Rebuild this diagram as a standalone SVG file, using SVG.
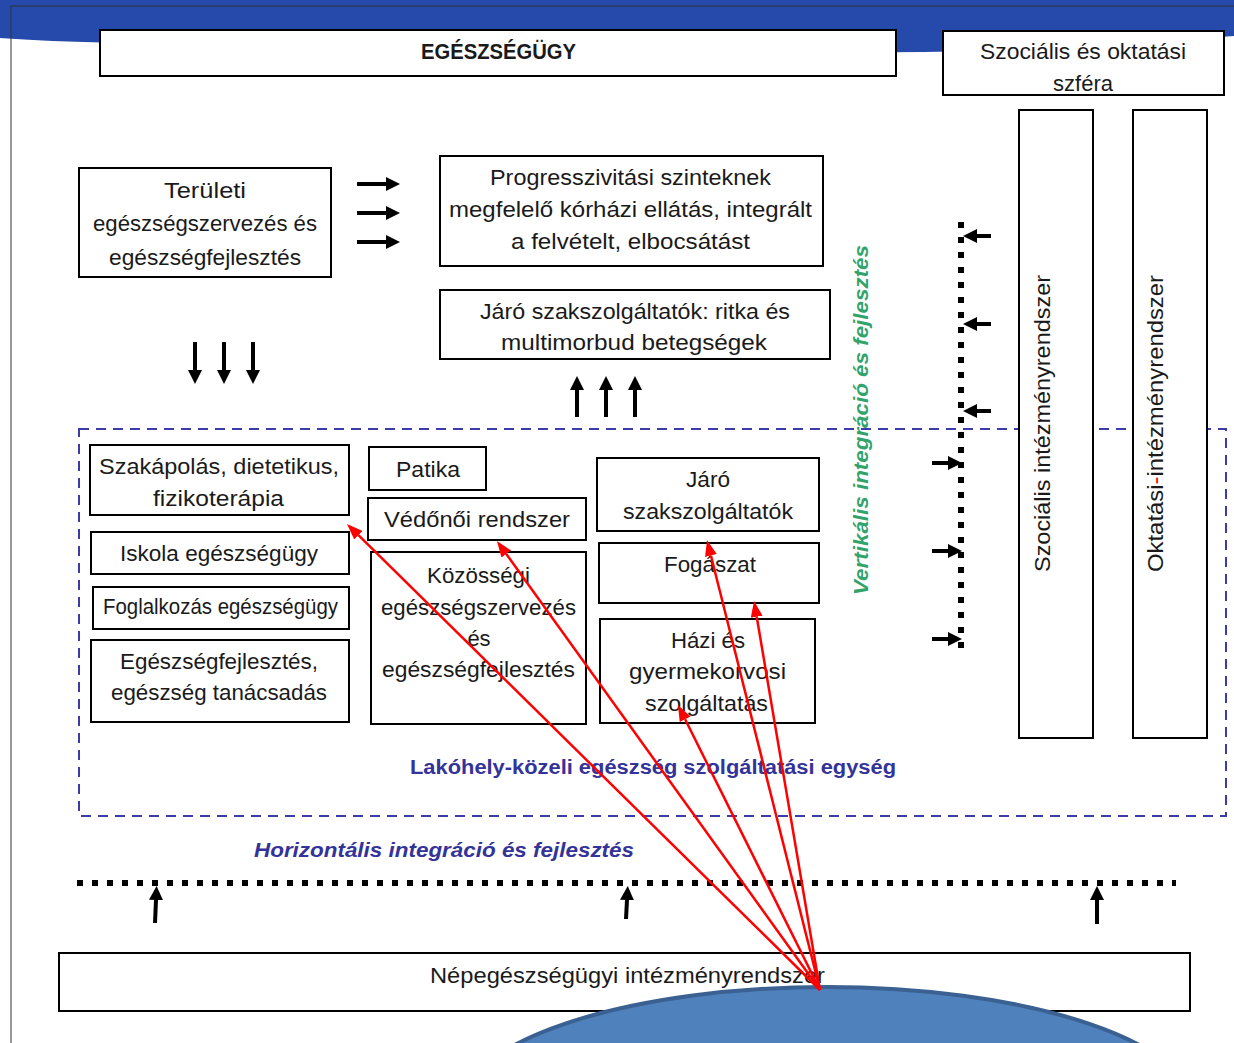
<svg xmlns="http://www.w3.org/2000/svg" width="1234" height="1043" viewBox="0 0 1234 1043">
<style>
.box{fill:#fff;stroke:#000;stroke-width:2}
.t{font-family:"Liberation Sans",Arial,sans-serif;font-size:22px;fill:#1a1a1a;text-anchor:middle}
.blk{stroke:#000;stroke-width:4;fill:none}
.red{stroke:#ff0000;stroke-width:2.5;fill:none}
.dot{stroke:#000;stroke-width:6;stroke-dasharray:6 9;fill:none}
.it{font-family:"Liberation Sans",Arial,sans-serif;font-weight:bold;font-style:italic}
</style>
<defs>
<marker id="ah" markerUnits="userSpaceOnUse" markerWidth="15" markerHeight="15" refX="0" refY="7" orient="auto"><path d="M0,0 L14,7 L0,14 Z" fill="#000"/></marker>
<marker id="rh" markerUnits="userSpaceOnUse" markerWidth="17" markerHeight="13" refX="0" refY="6" orient="auto"><path d="M0,0 L16,6 L0,12 Z" fill="#ff0000"/></marker>
</defs>
<rect width="1234" height="1043" fill="#fff"/>
<path d="M0,0 H1234 V36 C1100,46 980,54 850,52 C600,48 300,46 120,43 C70,42 30,40 0,38 Z" fill="#254aab"/>
<rect x="11" y="6" width="1240" height="1100" fill="none" stroke="#333" stroke-width="1"/>

<g id="top-health"><rect class="box" x="100" y="30" width="796" height="46"/><text class="t" x="498.5" y="59" font-weight="bold" font-size="20" textLength="155" lengthAdjust="spacingAndGlyphs">EGÉSZSÉGÜGY</text></g>
<g id="top-social"><rect class="box" x="943" y="31" width="281" height="64"/><text class="t" x="1083" y="59" textLength="206" lengthAdjust="spacingAndGlyphs">Szociális és oktatási</text><text class="t" x="1083" y="91">szféra</text></g>

<g id="teruleti"><rect class="box" x="79" y="168" width="252" height="109"/><text class="t" x="205" y="198" textLength="82" lengthAdjust="spacingAndGlyphs">Területi</text><text class="t" x="205" y="231" textLength="224" lengthAdjust="spacingAndGlyphs">egészségszervezés és</text><text class="t" x="205" y="265" textLength="192" lengthAdjust="spacingAndGlyphs">egészségfejlesztés</text></g>
<g id="progresszivitasi"><rect class="box" x="440" y="156" width="383" height="110"/><text class="t" x="630.5" y="185" textLength="281" lengthAdjust="spacingAndGlyphs">Progresszivitási szinteknek</text><text class="t" x="630.5" y="217" textLength="363" lengthAdjust="spacingAndGlyphs">megfelelő kórházi ellátás, integrált</text><text class="t" x="630.5" y="249" textLength="239" lengthAdjust="spacingAndGlyphs">a felvételt, elbocsátást</text></g>
<g id="jaro-top"><rect class="box" x="440" y="290" width="390" height="69"/><text class="t" x="635" y="319" textLength="310" lengthAdjust="spacingAndGlyphs">Járó szakszolgáltatók: ritka és</text><text class="t" x="634" y="350" textLength="266" lengthAdjust="spacingAndGlyphs">multimorbud betegségek</text></g>

<rect x="79" y="429" width="1147" height="387" fill="none" stroke="#3c3ca8" stroke-width="2" stroke-dasharray="10 7"/>

<g id="szocialis-int"><rect class="box" x="1019" y="110" width="74" height="628"/><text class="t" transform="translate(1050,423.5) rotate(-90)" textLength="297" lengthAdjust="spacingAndGlyphs">Szociális intézményrendszer</text></g>
<g id="oktatasi-int"><rect class="box" x="1133" y="110" width="74" height="628"/><text class="t" transform="translate(1163,423.5) rotate(-90)" textLength="297" lengthAdjust="spacingAndGlyphs">Oktatási<tspan fill="#ff0000">-</tspan>intézményrendszer</text></g>

<g id="szakapolas"><rect class="box" x="90" y="445" width="259" height="70"/><text class="t" x="219" y="474" textLength="240" lengthAdjust="spacingAndGlyphs">Szakápolás, dietetikus,</text><text class="t" x="218.5" y="506" textLength="131" lengthAdjust="spacingAndGlyphs">fizikoterápia</text></g>
<g id="iskola"><rect class="box" x="91" y="532" width="258" height="42"/><text class="t" x="219" y="561" textLength="198" lengthAdjust="spacingAndGlyphs">Iskola egészségügy</text></g>
<g id="foglalkozas"><rect class="box" x="93" y="587" width="256" height="42"/><text class="t" x="220.5" y="614" font-size="19" textLength="235" lengthAdjust="spacingAndGlyphs">Foglalkozás egészségügy</text></g>
<g id="egeszsegfejl"><rect class="box" x="91" y="640" width="258" height="82"/><text class="t" x="219" y="669" textLength="198" lengthAdjust="spacingAndGlyphs">Egészségfejlesztés,</text><text class="t" x="219" y="700" textLength="216" lengthAdjust="spacingAndGlyphs">egészség tanácsadás</text></g>
<g id="patika"><rect class="box" x="369" y="447" width="117" height="43"/><text class="t" x="428" y="477" textLength="64" lengthAdjust="spacingAndGlyphs">Patika</text></g>
<g id="vedonoi"><rect class="box" x="368" y="498" width="218" height="42"/><text class="t" x="477" y="527" textLength="186" lengthAdjust="spacingAndGlyphs">Védőnői rendszer</text></g>
<g id="kozossegi"><rect class="box" x="371" y="552" width="215" height="172"/><text class="t" x="478.5" y="583" textLength="103" lengthAdjust="spacingAndGlyphs">Közösségi</text><text class="t" x="478.5" y="615" textLength="195" lengthAdjust="spacingAndGlyphs">egészségszervezés</text><text class="t" x="479" y="646">és</text><text class="t" x="478.5" y="677" textLength="193" lengthAdjust="spacingAndGlyphs">egészségfejlesztés</text></g>
<g id="jaro-inner"><rect class="box" x="597" y="458" width="222" height="73"/><text class="t" x="708" y="487" textLength="44" lengthAdjust="spacingAndGlyphs">Járó</text><text class="t" x="708" y="519" textLength="170" lengthAdjust="spacingAndGlyphs">szakszolgáltatók</text></g>
<g id="fogaszat"><rect class="box" x="599" y="543" width="220" height="60"/><text class="t" x="710" y="572" textLength="92" lengthAdjust="spacingAndGlyphs">Fogászat</text></g>
<g id="hazi"><rect class="box" x="600" y="619" width="215" height="104"/><text class="t" x="708" y="648" textLength="74" lengthAdjust="spacingAndGlyphs">Házi és</text><text class="t" x="707.5" y="679" textLength="157" lengthAdjust="spacingAndGlyphs">gyermekorvosi</text><text class="t" x="706.5" y="711" textLength="123" lengthAdjust="spacingAndGlyphs">szolgáltatás</text></g>

<text class="it" x="861" y="420" font-size="20" fill="#31a36b" text-anchor="middle" transform="rotate(-90 861 420)" dy="7" textLength="350" lengthAdjust="spacingAndGlyphs">Vertikális integráció és fejlesztés</text>
<text x="653" y="774" font-family="Liberation Sans,Arial,sans-serif" font-weight="bold" font-size="20" fill="#333399" text-anchor="middle" textLength="486" lengthAdjust="spacingAndGlyphs">Lakóhely-közeli egészség szolgáltatási egység</text>
<text class="it" x="444" y="857" font-size="20" fill="#333399" text-anchor="middle" textLength="380" lengthAdjust="spacingAndGlyphs">Horizontális integráció és fejlesztés</text>

<g id="nepegeszseg"><rect class="box" x="59" y="953" width="1131" height="58"/><text class="t" x="430" y="983" style="text-anchor:start" textLength="395" lengthAdjust="spacingAndGlyphs">Népegészségügyi intézményrendszer</text></g>
<ellipse cx="827" cy="1112" rx="370" ry="125" fill="#4f81bd" stroke="#3a6191" stroke-width="4"/>

<g id="connectors">
<line class="blk" x1="357" y1="184" x2="386" y2="184" marker-end="url(#ah)"/>
<line class="blk" x1="357" y1="213" x2="386" y2="213" marker-end="url(#ah)"/>
<line class="blk" x1="357" y1="242" x2="386" y2="242" marker-end="url(#ah)"/>
<line class="blk" x1="195" y1="342" x2="195" y2="370" marker-end="url(#ah)"/>
<line class="blk" x1="224" y1="342" x2="224" y2="370" marker-end="url(#ah)"/>
<line class="blk" x1="253" y1="342" x2="253" y2="370" marker-end="url(#ah)"/>
<line class="blk" x1="577" y1="417" x2="577" y2="390" marker-end="url(#ah)"/>
<line class="blk" x1="606" y1="417" x2="606" y2="390" marker-end="url(#ah)"/>
<line class="blk" x1="635" y1="417" x2="635" y2="390" marker-end="url(#ah)"/>
<line class="dot" x1="961" y1="222" x2="961" y2="655"/>
<line class="blk" x1="991" y1="236" x2="977" y2="236" marker-end="url(#ah)"/>
<line class="blk" x1="991" y1="324" x2="977" y2="324" marker-end="url(#ah)"/>
<line class="blk" x1="991" y1="411" x2="977" y2="411" marker-end="url(#ah)"/>
<line class="blk" x1="932" y1="463" x2="948" y2="463" marker-end="url(#ah)"/>
<line class="blk" x1="932" y1="551" x2="948" y2="551" marker-end="url(#ah)"/>
<line class="blk" x1="932" y1="639" x2="948" y2="639" marker-end="url(#ah)"/>
<line class="dot" x1="77" y1="883" x2="1176" y2="883"/>
<line class="blk" x1="155" y1="923" x2="156" y2="900" marker-end="url(#ah)"/>
<line class="blk" x1="626" y1="919" x2="627" y2="900" marker-end="url(#ah)"/>
<line class="blk" x1="1097" y1="924" x2="1097" y2="900" marker-end="url(#ah)"/>
<line class="red" x1="820" y1="990" x2="358.4" y2="535.2" marker-end="url(#rh)"/>
<line class="red" x1="820" y1="990" x2="506.3" y2="554" marker-end="url(#rh)"/>
<line class="red" x1="820" y1="990" x2="710.9" y2="555.5" marker-end="url(#rh)"/>
<line class="red" x1="820" y1="990" x2="756.7" y2="616.8" marker-end="url(#rh)"/>
<line class="red" x1="820" y1="990" x2="685.1" y2="719.3" marker-end="url(#rh)"/>
</g>
</svg>
